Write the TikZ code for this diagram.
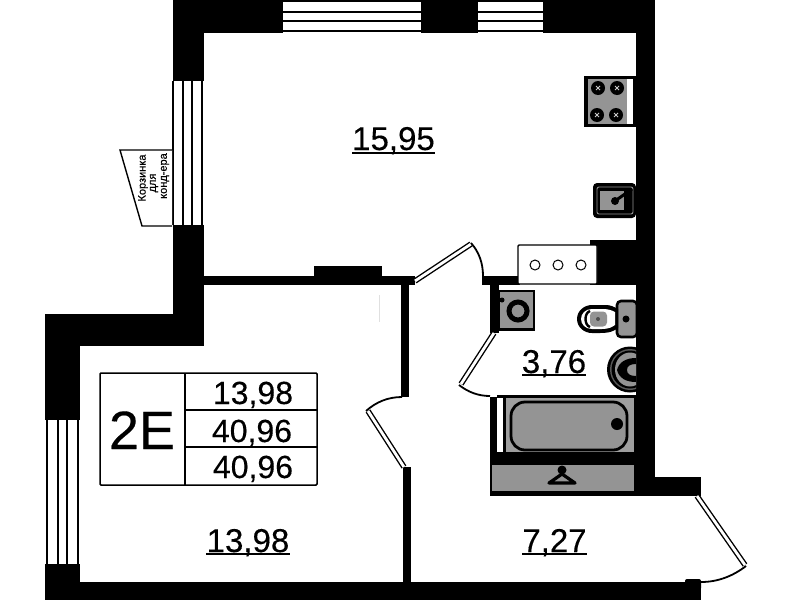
\documentclass[tikz,border=0pt]{standalone}
\usepackage{fontspec}
\setmainfont[FakeBold=0.25]{Liberation Sans}
\tikzset{
  wall/.style={fill=black,draw=none},
  leaf/.style={draw=black,double=white,double distance=2.8pt,line width=1.4pt,line cap=butt},
  swing/.style={draw=black,line width=1.8pt},
  glass/.style={draw=black,line width=1.6pt},
  area/.style={inner sep=0pt,anchor=base,font=\fontsize{33}{36}\selectfont},
  cell/.style={inner sep=0pt,anchor=base,font=\fontsize{32}{36}\selectfont},
  grid/.style={draw=black,line width=1.5pt},
  basket/.style={inner sep=0pt,rotate=90,font=\fontsize{11}{12}\selectfont},
}
\definecolor{applgray}{gray}{0.58}
\begin{document}
\begin{tikzpicture}[x=1pt,y=-1pt]
\useasboundingbox (0,0) rectangle (799,600);
\fill[white] (0,0) rectangle (799,600);
% walls
\fill[wall] (173,0) rectangle (283,33);
\fill[wall] (421,0) rectangle (478,33);
\fill[wall] (543,0) rectangle (655,33);
\fill[wall] (173,0) rectangle (204,81);
\fill[wall] (173,225) rectangle (204,346);
\fill[wall] (45,314) rectangle (204,346);
\fill[wall] (45,314) rectangle (80,420);
\fill[wall] (45,564) rectangle (80,600);
\fill[wall] (45,582) rectangle (701,600);
\fill[wall,rounded corners=2pt] (685,579) rectangle (701,590);
\fill[wall] (636,0) rectangle (655,496);
\fill[wall] (634,477) rectangle (701,496);
\fill[wall] (204,276) rectangle (415,285);
\fill[wall] (314,266) rectangle (382,277);
\fill[wall] (401,276) rectangle (409,397);
\fill[wall] (403,467) rectangle (411,582);
\fill[wall] (482,276) rectangle (520,285);
\fill[wall] (490,276) rectangle (499,333);
\fill[wall] (590,240) rectangle (640,285);
\fill[wall] (490,397) rectangle (497,496);
\fill[wall] (497,395) rectangle (640,398);
\fill[wall] (503,395) rectangle (506,452);
\fill[wall] (490,452) rectangle (640,465);
\fill[wall] (490,491) rectangle (640,496);
\fill[wall] (490,465) rectangle (492,496);
\fill[wall] (634,395) rectangle (640,496);
% top windows
\foreach \yy in {1,12,21,31} {
  \draw[glass] (283,\yy) -- (421,\yy);
  \draw[glass] (478,\yy) -- (543,\yy);
}
% left windows
\foreach \xx in {173,183,192,202} \draw[glass] (\xx,81) -- (\xx,225);
\foreach \xx in {47,58,67,78} \draw[glass] (\xx,420) -- (\xx,564);
% basket
\draw[line width=1.4pt,fill=white] (172,150) -- (120,150) -- (142,226) -- (172,226);
\node[basket] (bask1) at (143,178) {Корзинка};
\node[basket] (bask2) at (154,183) {для};
\node[basket] (bask3) at (165,176) {конд-ера};
% doors
\draw[leaf] (415,281) -- (471,244);
\draw[swing] (471,243) .. controls (479,252) and (483,263) .. (483,276);
\draw[leaf] (494,333) -- (461,384);
\draw[swing] (459,385) .. controls (468,392) and (478,396) .. (490,396);
\draw[leaf] (404,467) -- (368,411);
\draw[swing] (366,411) .. controls (376,402) and (388,397) .. (402,397);
\draw[leaf] (697,496) -- (745,565);
\draw[swing] (746,566) .. controls (733,576) and (718,582) .. (701,582);
% stove
\fill[black] (584,76) rectangle (636,127);
\fill[applgray] (588,79) rectangle (627,124);
\fill[white] (627,79) rectangle (633,124);
\foreach \cx/\cy in {598/88,617/88,597/115,616/115} {
  \fill[black] (\cx,\cy) circle (7);
  \draw[white!80!black,line width=.8pt] (\cx-2,\cy-2) -- (\cx+2,\cy+2) (\cx-2,\cy+2) -- (\cx+2,\cy-2);
}
% kitchen sink
\fill[black,rounded corners=4pt] (593,183) rectangle (636,218);
\draw[applgray,line width=.9pt,rounded corners=2pt] (597,187) rectangle (633,214);
\fill[applgray] (600,191) rectangle (624,210);
\draw[black,line width=3pt] (615,201) -- (632,189);
\fill[black] (615,201) circle (4);
% hob box
\draw[fill=white,line width=1.4pt,rounded corners=1pt] (518,245) rectangle (597,284);
\foreach \cx in {535,558,581} \draw[line width=1pt,fill=white] (\cx,265) circle (5);
% washing machine
\fill[black] (499,290) rectangle (535,331);
\fill[applgray] (500,292) rectangle (533,328);
\draw[black,line width=5pt,fill=applgray] (518,311) circle (9);
\fill[black] (502,300) circle (2.5);
% toilet
\draw[fill=applgray,line width=2.6pt,rounded corners=4pt] (617,301) rectangle (637,337);
\fill[black] (626,319) circle (3.5);
\fill[black] (606,305) .. controls (611,305) and (614,307) .. (618,309) -- (618,328) .. controls (614,331) and (610,333) .. (600,333) -- (592,333) .. controls (584,333) and (577,327) .. (577,319) .. controls (577,311) and (584,305) .. (592,305) -- cycle;
\fill[white] (592,309) .. controls (585,309) and (581,314) .. (581,319) .. controls (581,324) and (585,329) .. (592,329) -- (602,329) .. controls (609,329) and (612,327) .. (615,325) -- (615,312) .. controls (611,310) and (608,309) .. (602,309) -- cycle;
\draw[line width=2.4pt] (590,311) .. controls (584,313) and (584,325) .. (590,327);
\fill[applgray,rounded corners=4pt] (590,311.5) rectangle (607,326.5);
\fill[black!70] (598,319) circle (2);
% wash basin
\begin{scope}
\clip (600,340) rectangle (636,395);
\fill[black] (630,369.5) ellipse (23 and 23);
\fill[black!65] (630,369.5) ellipse (20 and 20.5);
\fill[black] (630,369.5) ellipse (18.5 and 19);
\fill[applgray] (630,369.5) ellipse (15 and 17);
\fill[black] (617,370) .. controls (619,362) and (626,358) .. (636,358) -- (636,364) .. controls (630,364) and (627,366) .. (627,370) .. controls (627,374) and (630,376) .. (636,376) -- (636,382) .. controls (626,382) and (619,378) .. (617,370) -- cycle;
\end{scope}
% bath
\fill[black!38] (506,398) rectangle (634,452);
\draw[line width=2.8pt,fill=applgray,rounded corners=14pt] (511,402) rectangle (627,450);
\fill[black] (617,424) circle (6);
% closet
\fill[applgray] (492,465) rectangle (634,491);
\fill[black] (562,470) circle (4.5);
\draw[line width=3.2pt,line join=round,fill=applgray] (562,474) -- (549,483) -- (575,483) -- cycle;
% labels
\node[area] (a1) at (393.5,150) {15,95};
\draw[line width=1.6pt] (352,153) -- (435,153);
\node[area] (a2) at (248,552) {13,98};
\draw[line width=1.6pt] (206,554) -- (290,554);
\node[area] (a3) at (554,373) {3,76};
\draw[line width=1.6pt] (522,375) -- (586,375);
\node[area] (a4) at (554.5,552) {7,27};
\draw[line width=1.6pt] (522,554) -- (587,554);
% table
\draw[grid,rounded corners=1pt] (100,373) rectangle (317,485);
\draw[grid] (185,373) -- (185,485);
\draw[grid,line width=2pt] (185,410) -- (317,410);
\draw[grid] (185,447) -- (317,447);
\node[inner sep=0pt,anchor=base,font=\fontsize{54}{60}\selectfont] (kind) at (142,449) {2E};
\node[cell] (c1) at (253,404) {13,98};
\node[cell] (c2) at (252,442) {40,96};
\node[cell] (c3) at (253,478) {40,96};
\draw[black!12,line width=.6pt] (379,295) -- (379,322);
\end{tikzpicture}
\end{document}
